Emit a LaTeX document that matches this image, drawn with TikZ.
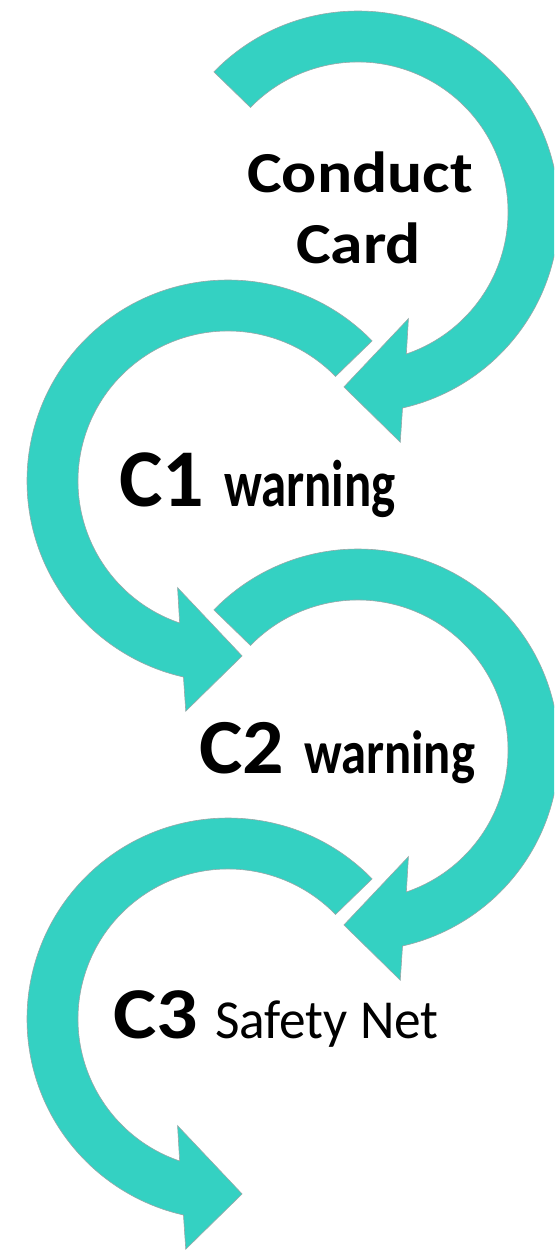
\documentclass[tikz,border=0pt]{standalone}
\usepackage{fontspec}
\usepackage{graphicx}
\setmainfont{Carlito}
\definecolor{arrowteal}{RGB}{52,209,194}
\definecolor{arrowedge}{RGB}{150,168,168}
\tikzset{
  turnfill/.style={fill=arrowteal, draw=arrowedge, line width=0.6pt, line join=miter},
  turnccw/.pic={
    \path[turnfill] (44.2:201pt) arc[start angle=44.2, end angle=257.2, radius=201pt]
      -- (259.6:234pt) -- (274.6:175.5pt) -- (244.7:118pt) -- (251.2:150pt)
      arc[start angle=251.2, end angle=44.2, radius=150pt] -- cycle;
  },
  turncw/.pic={
    \path[turnfill] (135.8:201pt) arc[start angle=135.8, end angle=-77.2, radius=201pt]
      -- (-79.6:234pt) -- (-94.6:175.5pt) -- (-64.7:118pt) -- (-71.2:150pt)
      arc[start angle=-71.2, end angle=135.8, radius=150pt] -- cycle;
  },
  lbl/.style={anchor=base west, inner sep=0pt, outer sep=0pt, text=black},
  lblc/.style={anchor=base, inner sep=0pt, outer sep=0pt, text=black},
}
\begin{document}
\begin{tikzpicture}
\useasboundingbox (0pt,0pt) rectangle (554pt,-1252pt);
\fill[white] (0pt,0pt) rectangle (554pt,-1252pt);
\clip (0pt,0pt) rectangle (554pt,-1252pt);
% arrows
\pic at (358pt,-212pt) {turncw};
\pic at (228pt,-481pt) {turnccw};
\pic at (358pt,-750pt) {turncw};
\pic at (228pt,-1019pt) {turnccw};
% labels
\node[lblc] (conduct) at (360pt,-193pt) {\fontsize{58pt}{64pt}\selectfont\bfseries\scalebox{1.13}[1]{Conduct}};
\node[lblc] (card) at (358.5pt,-263pt) {\fontsize{58pt}{64pt}\selectfont\bfseries\scalebox{1.13}[1]{Card}};
\node[lbl] (c1) at (119pt,-506pt) {\fontsize{82pt}{90pt}\selectfont\bfseries C1};
\node[lbl] (w1) at (224pt,-506pt) {\fontsize{66pt}{72pt}\selectfont\bfseries\scalebox{0.77}[1]{warning}};
\node[lbl] (c2) at (199pt,-773pt) {\fontsize{78pt}{86pt}\selectfont\bfseries\scalebox{1.05}[1]{C2}};
\node[lbl] (w2) at (304pt,-773pt) {\fontsize{61pt}{68pt}\selectfont\bfseries\scalebox{0.83}[1]{warning}};
\node[lbl] (c3) at (113pt,-1038pt) {\fontsize{73pt}{80pt}\selectfont\bfseries\scalebox{1.12}[1]{C3}};
\node[lbl] (sn) at (215pt,-1038pt) {\fontsize{55pt}{62pt}\selectfont\scalebox{0.97}[1]{Safety Net}};
\end{tikzpicture}
\end{document}
